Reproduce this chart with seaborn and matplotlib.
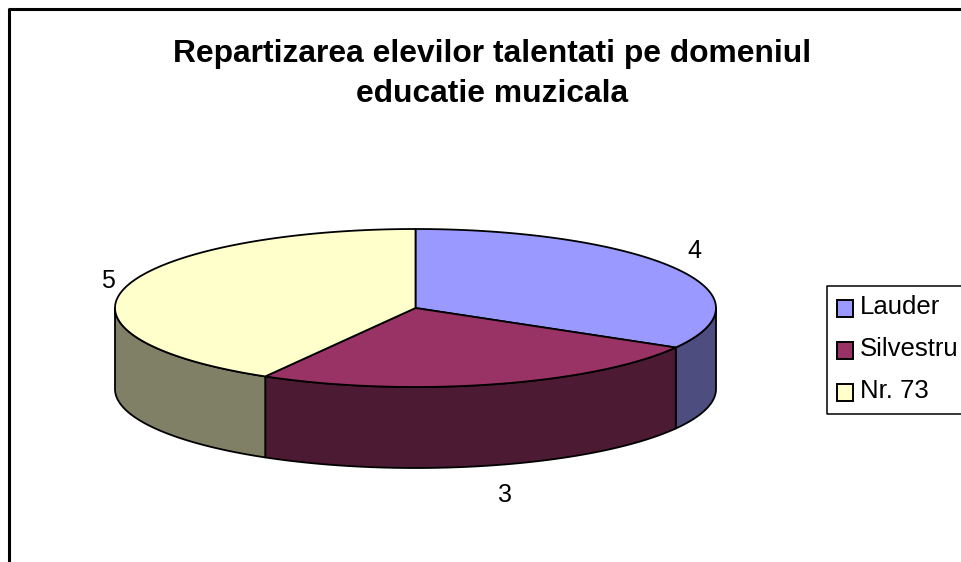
import numpy as np
import seaborn as sns
import matplotlib
matplotlib.use('Agg')
import matplotlib.pyplot as plt
from matplotlib.patches import Polygon, Rectangle

# number of talented pupils per school
schools = ['Lauder', 'Silvestru', 'Nr. 73']
pupils = [4, 3, 5]
top_colors = ['#9999FF', '#993366', '#FFFFCC']
side_colors = ['#4D4D80', '#4D1A33', '#808066']
title = 'Repartizarea elevilor talentati pe domeniul\neducatie muzicala'

sns.set_theme(style='white')
plt.rcParams['font.family'] = ['Liberation Sans', 'DejaVu Sans']

# axes in picture pixels, y going down
fig = plt.figure(figsize=(9.62, 5.62), dpi=100)
ax = fig.add_axes([0, 0, 1, 1])
ax.set_xlim(0, 962)
ax.set_ylim(562, 0)
ax.axis('off')

cx, cy, rx, ry, depth = 415.5, 308, 300.5, 79, 81


def rim(a, b):
    t = np.radians(np.linspace(a, b, 120))
    return np.column_stack([cx + rx * np.sin(t), cy - ry * np.cos(t)])


# outer frame, open at right and bottom like the source crop
ax.plot([9, 9, 962], [562, 9, 9], color='black', lw=2.2, solid_capstyle='butt', clip_on=False)

edges = np.cumsum([0] + pupils) / sum(pupils) * 360

# side walls only on the front half of the ellipse
for i in range(len(pupils)):
    a, b = max(edges[i], 90), min(edges[i + 1], 270)
    if a >= b:
        continue
    pts = rim(a, b)
    wall = np.vstack([pts, pts[::-1] + [0, depth]])
    ax.add_patch(Polygon(wall, closed=True, fc=side_colors[i], ec='black', lw=1.3, joinstyle='round'))

# top faces
for i in range(len(pupils)):
    face = np.vstack([[cx, cy], rim(edges[i], edges[i + 1])])
    ax.add_patch(Polygon(face, closed=True, fc=top_colors[i], ec='black', lw=1.3, joinstyle='round'))

# value labels
label_xy = [(694, 251), (505, 495), (108, 281)]
for v, (x, y) in zip(pupils, label_xy):
    ax.text(x, y, str(v), fontsize=18, color='black', ha='center', va='center')

ax.text(492, 74, title, fontsize=22.9, fontweight='bold', color='black',
        ha='center', va='center', linespacing=1.41)

# legend box runs off the right edge
ax.plot([962, 827.5, 827.5, 962], [285.5, 285.5, 413.5, 413.5], color='black', lw=1.1, clip_on=False)
legend_y = [309, 351, 393]
for name, col, y in zip(schools, top_colors, legend_y):
    ax.add_patch(Rectangle((837.5, y - 9), 16, 17, fc=col, ec='black', lw=1.4))
    ax.text(860, y - 2, name, fontsize=18.5, color='black', ha='left', va='center')

fig.savefig('out.png', dpi=100, facecolor='white')
